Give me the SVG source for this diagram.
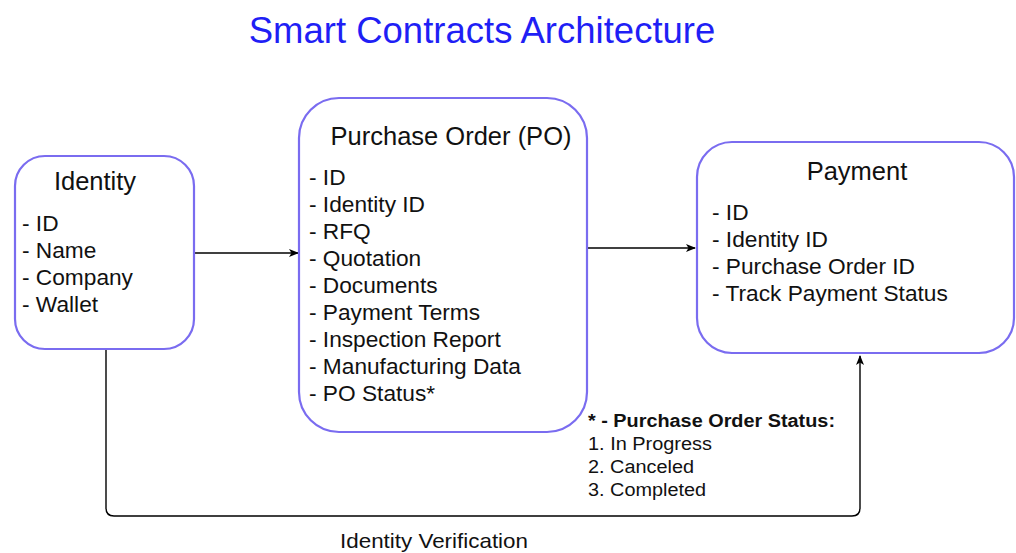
<svg xmlns="http://www.w3.org/2000/svg" width="1016" height="553" viewBox="0 0 1016 553">
<style>
.box{fill:#ffffff;stroke:#7a6cf0;stroke-width:2.2}
.t{font-family:"Liberation Sans",Arial,sans-serif;fill:#111}
.h{font-size:25.5px;text-anchor:middle}
.i{font-size:22.7px}
.n{font-size:18px}
.c{fill:none;stroke:#000;stroke-width:1.4}
</style>
<defs>
<marker id="ah" markerWidth="10" markerHeight="10" refX="9" refY="5" orient="auto" markerUnits="userSpaceOnUse">
<path d="M0,1 L10,5 L0,9 L2.5,5 Z" fill="#000"/>
</marker>
</defs>
<rect width="1016" height="553" fill="#ffffff"/>
<text x="482" y="43" class="t" style="font-size:36.5px;fill:#1f1ff5" text-anchor="middle">Smart Contracts Architecture</text>
<g id="connectors">
<path class="c" d="M194,253 L298,253" marker-end="url(#ah)"/>
<path class="c" d="M587,248 L695,248" marker-end="url(#ah)"/>
<path class="c" d="M106,349 L106,508 Q106,516 114,516 L852,516 Q860,516 860,508 L860,356" marker-end="url(#ah)"/>
<text x="340" y="548" class="t" style="font-size:21px" textLength="188" lengthAdjust="spacingAndGlyphs">Identity Verification</text>
</g>
<g id="identity">
<rect class="box" x="15" y="156" width="179" height="193" rx="30"/>
<text x="95" y="190" class="t h">Identity</text>
<text class="t i"><tspan x="22" y="231">- ID</tspan><tspan x="22" y="258">- Name</tspan><tspan x="22" y="285">- Company</tspan><tspan x="22" y="312">- Wallet</tspan></text>
</g>
<g id="purchase-order">
<rect class="box" x="299" y="98" width="288" height="334" rx="40"/>
<text x="451" y="145" class="t h">Purchase Order (PO)</text>
<text class="t i"><tspan x="309" y="185">- ID</tspan><tspan x="309" y="212">- Identity ID</tspan><tspan x="309" y="239">- RFQ</tspan><tspan x="309" y="266">- Quotation</tspan><tspan x="309" y="293">- Documents</tspan><tspan x="309" y="320">- Payment Terms</tspan><tspan x="309" y="347">- Inspection Report</tspan><tspan x="309" y="374">- Manufacturing Data</tspan><tspan x="309" y="401">- PO Status*</tspan></text>
</g>
<g id="payment">
<rect class="box" x="697" y="142" width="317" height="211" rx="35"/>
<text x="857" y="180" class="t h">Payment</text>
<text class="t i"><tspan x="712" y="220">- ID</tspan><tspan x="712" y="247">- Identity ID</tspan><tspan x="712" y="274">- Purchase Order ID</tspan><tspan x="712" y="301">- Track Payment Status</tspan></text>
</g>
<g id="status-note">
<text x="588" y="427" class="t n" font-weight="bold" textLength="247" lengthAdjust="spacingAndGlyphs">* - Purchase Order Status:</text>
<text x="588" y="450" class="t n" textLength="124" lengthAdjust="spacingAndGlyphs">1. In Progress</text>
<text x="588" y="473" class="t n" textLength="106" lengthAdjust="spacingAndGlyphs">2. Canceled</text>
<text x="588" y="496" class="t n" textLength="118" lengthAdjust="spacingAndGlyphs">3. Completed</text>
</g>
</svg>
